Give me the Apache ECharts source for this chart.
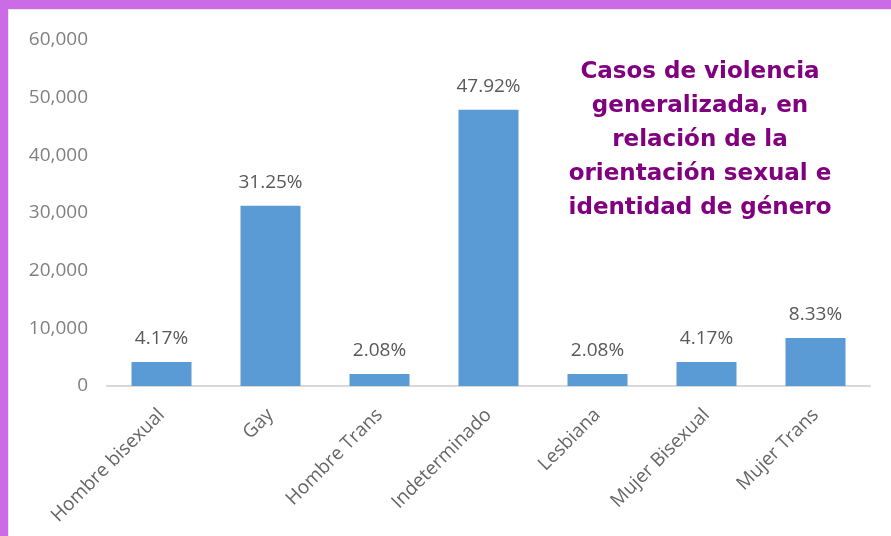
<!DOCTYPE html>
<html>
<head>
<meta charset="utf-8">
<script src="https://cdn.jsdelivr.net/npm/echarts@6/dist/echarts.min.js"></script>
<style>
  html, body { margin: 0; padding: 0; background: #fff; }
  #chart { width: 891px; height: 536px; }
</style>
</head>
<body>
<div id="chart"></div>
<script>
// datos del gráfico
const categorias = ['Hombre bisexual', 'Gay', 'Hombre Trans', 'Indeterminado', 'Lesbiana', 'Mujer Bisexual', 'Mujer Trans']
const valores = [4170, 31250, 2080, 47920, 2080, 4170, 8330]
const porcentajes = ['4.17%', '31.25%', '2.08%', '47.92%', '2.08%', '4.17%', '8.33%']
const ticksY = [0, 10000, 20000, 30000, 40000, 50000, 60000]

const titulo = 'Casos de violencia\ngeneralizada, en\nrelación de la\norientación sexual e\nidentidad de género'

const chart = echarts.init(document.getElementById('chart'))

const option = {
  backgroundColor: '#ffffff',
  animation: false,
  grid: {
    left: 107,
    right: 21,
    top: 40,
    bottom: 150
  },
  xAxis: {
    type: 'category',
    data: categorias,
    axisLine: { lineStyle: { color: '#d9d9d9', width: 2 } },
    axisTick: { show: false },
    axisLabel: {
      rotate: 45,
      interval: 0,
      margin: 26,
      color: '#666666',
      fontFamily: 'Open Sans',
      fontSize: 19
    }
  },
  yAxis: {
    type: 'value',
    min: ticksY[0],
    max: ticksY[ticksY.length - 1],
    interval: 10000,
    splitLine: { show: false },
    axisLine: { show: false },
    axisTick: { show: false },
    axisLabel: {
      margin: 19,
      color: '#808080',
      fontFamily: 'Open Sans',
      fontSize: 19,
      formatter: v => v.toLocaleString('en-US')
    }
  },
  series: [
    {
      type: 'bar',
      data: valores,
      barWidth: 60,
      itemStyle: { color: '#5b9bd5' },
      label: {
        show: true,
        position: 'top',
        distance: 14,
        color: '#595959',
        fontFamily: 'Open Sans',
        fontSize: 19,
        formatter: p => porcentajes[p.dataIndex]
      }
    }
  ],
  graphic: [
    // marco morado
    { type: 'rect', left: 0, top: 0, z: 10, shape: { width: 891, height: 9 }, style: { fill: '#cb6ce6' } },
    { type: 'rect', left: 0, top: 0, z: 10, shape: { width: 8, height: 536 }, style: { fill: '#cb6ce6' } },
    { type: 'rect', left: 8, top: 9, z: 9, shape: { width: 883, height: 1 }, style: { fill: '#e6e6e6' } },
    { type: 'rect', left: 8, top: 9, z: 9, shape: { width: 1, height: 527 }, style: { fill: '#e6e6e6' } },
    {
      type: 'text',
      x: 700,
      y: 55,
      z: 11,
      style: {
        text: titulo,
        fill: '#80007f',
        font: 'bold 23px "DejaVu Sans"',
        align: 'center',
        verticalAlign: 'top',
        lineHeight: 34
      }
    }
  ]
}

chart.setOption(option)
</script>
</body>
</html>
